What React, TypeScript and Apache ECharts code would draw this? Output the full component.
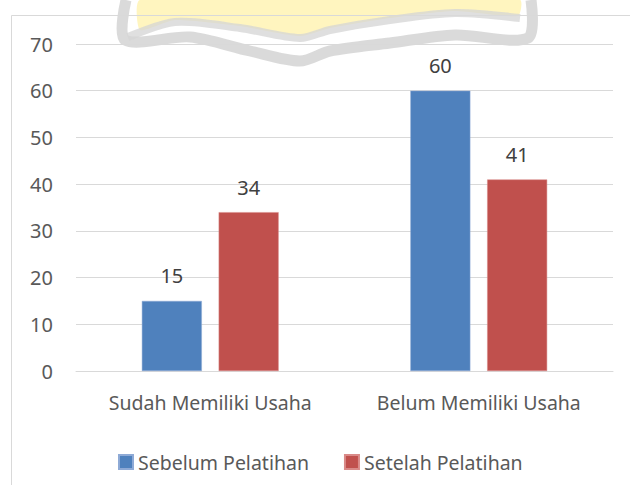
import React, { useEffect, useRef } from "react";
import * as echarts from "echarts";

const categories = ["Sudah Memiliki Usaha", "Belum Memiliki Usaha"];
const seriesNames = ["Sebelum Pelatihan", "Setelah Pelatihan"];
const sebelum = [15, 60];
const setelah = [34, 41];
const yTicks = { min: 0, max: 70, interval: 10 };

const FONT = "Noto Sans";
const FS = 19.5;
const FN = 20;

export default function App() {
  const ref = useRef<HTMLDivElement>(null);
  useEffect(() => {
    if (!ref.current) return;
    const chart = echarts.init(ref.current, null, { renderer: "svg" });
    chart.setOption({
      animation: false,
      backgroundColor: "#ffffff",
      textStyle: { fontFamily: FONT },
      graphic: [
        {
          type: "polygon",
          silent: true,
          z: -10,
          shape: {
            smooth: 0.2,
            points: [
              [140, 0], [520, 0], [518, 16], [455, 11], [390, 18], [330, 28],
              [300, 36], [240, 26], [175, 20], [140, 30],
            ],
          },
          style: { fill: "#fff4b8", opacity: 0.9 },
        },
        {
          type: "polyline",
          silent: true,
          z: -9,
          shape: {
            smooth: 0.3,
            points: [
              [126, 0], [125, 40], [190, 37], [250, 51], [300, 61], [330, 51],
              [390, 43], [455, 35], [528, 38], [531, 0],
            ],
          },
          style: { stroke: "#d4d4d4", lineWidth: 11, fill: "none", opacity: 0.85 },
        },
        {
          type: "polyline",
          silent: true,
          z: -9,
          shape: {
            smooth: 0.3,
            points: [
              [128, 37], [175, 22], [240, 28], [300, 38], [330, 30], [390, 20],
              [455, 13], [520, 18],
            ],
          },
          style: { stroke: "#d4d4d4", lineWidth: 8, fill: "none", opacity: 0.75 },
        },
        {
          type: "rect",
          silent: true,
          z: -5,
          shape: { x: 11.5, y: 15.5, width: 640, height: 500 },
          style: { fill: "none", stroke: "#d9d9d9", lineWidth: 1 },
        },
      ],
      grid: { left: 76, right: 17, top: 44, bottom: 114, containLabel: false },
      legend: {
        data: seriesNames,
        left: 113,
        top: 447,
        itemWidth: 14,
        itemHeight: 14,
        itemGap: 35,
        icon: "rect",
        textStyle: { color: "#595959", fontSize: FS, fontFamily: FONT },
      },
      xAxis: {
        type: "category",
        data: categories,
        axisLine: { lineStyle: { color: "#d9d9d9" } },
        axisTick: { show: false },
        axisLabel: { color: "#595959", fontSize: FS, margin: 21, fontFamily: FONT },
      },
      yAxis: {
        type: "value",
        min: yTicks.min,
        max: yTicks.max,
        interval: yTicks.interval,
        axisLine: { show: false },
        axisTick: { show: false },
        axisLabel: { color: "#595959", fontSize: FN, margin: 23, fontFamily: FONT },
        splitLine: { lineStyle: { color: "#d9d9d9" } },
      },
      series: [
        {
          name: seriesNames[0],
          type: "bar",
          data: sebelum,
          barWidth: 60,
          barGap: "28%",
          itemStyle: { color: "#4f81bd", borderColor: "#8eaad6", borderWidth: 0.5 },
          label: { show: true, position: "top", distance: 15, color: "#404040", fontSize: FN, fontFamily: FONT },
        },
        {
          name: seriesNames[1],
          type: "bar",
          data: setelah,
          barWidth: 60,
          barGap: "28%",
          itemStyle: { color: "#c0504d", borderColor: "#d98a88", borderWidth: 0.5 },
          label: { show: true, position: "top", distance: 15, color: "#404040", fontSize: FN, fontFamily: FONT },
        },
      ],
    });
    return () => chart.dispose();
  }, []);
  return <div ref={ref} style={{ width: 630, height: 485, position: "absolute", left: 0, top: 0 }} />;
}
